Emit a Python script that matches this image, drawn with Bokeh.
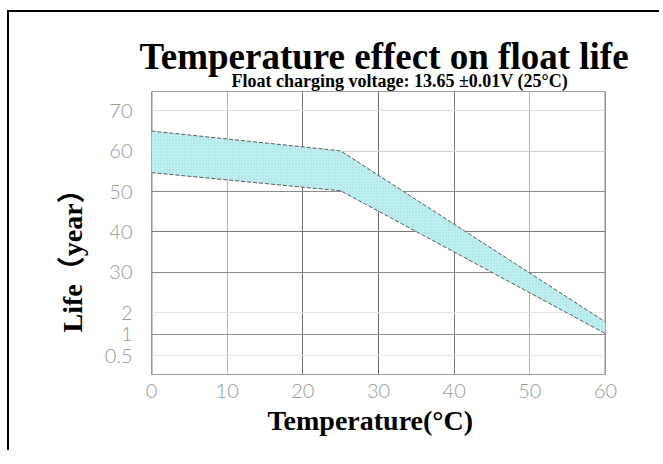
import math
from bokeh.plotting import figure
from bokeh.models import FixedTicker, Range1d, Title
from bokeh.embed import file_html
from bokeh.resources import INLINE

# ---- data ----
temps = [0, 25, 60]
life_upper = [65.0, 60.1, 17.7]
life_lower = [54.7, 50.2, 14.8]

xtick_vals = [0, 10, 20, 30, 40, 50, 60]
xtick_labels = ["0", "10", "20", "30", "40", "50", "60"]
ytick_pos = [70, 60, 50, 40, 30, 20, 14.6, 9.3]
ytick_labels = ["70", "60", "50", "40", "30", "2", "1", "0.5"]

title_text = "Temperature effect on float life"
subtitle_text = "Float charging voltage: 13.65 \u00b10.01V (25\u00b0C)"
xlabel_text = "Temperature(\u00b0C)"
ylabel_text = "Life\uff08year\uff09"

# ---- styles ----
xgrid_colors = ["#8c8c8c", "#b4b4b4", "#6e6e6e", "#6a6a6a", "#7a7a7a", "#b4b4b4", "#8c8c8c"]
xgrid_widths = [2, 1, 1, 1, 1, 1, 2]
ygrid_colors = ["#dcdcdc", "#d2d2d2", "#8a8a8a", "#7a7a7a", "#8a8a8a", "#e4e4e4", "#909090", "#e4e4e4"]

X0, X1 = 0, 60
Y0, Y1 = 4.69, 74.8
W, H = 652, 440
ML, MR, MT, MB = 142, 56, 79, 78

p = figure(width=W, height=H, x_range=Range1d(X0, X1), y_range=Range1d(Y0, Y1),
           output_backend="svg", toolbar_location=None,
           min_border_left=ML, min_border_right=MR, min_border_top=MT, min_border_bottom=MB)
p.title.visible = False
p.styles = {"border-left": "2px solid #000", "border-top": "2px solid #000",
            "margin-left": "7px", "margin-top": "10px"}

p.background_fill_color = "white"
p.border_fill_color = "white"
p.outline_line_color = "#a0a0a0"
p.outline_line_width = 1
p.xgrid.grid_line_color = None
p.ygrid.grid_line_color = None

# grid lines
p.vspan(x=xtick_vals, line_color=xgrid_colors, line_width=xgrid_widths)
p.hspan(y=ytick_pos, line_color=ygrid_colors, line_width=1)

# band
p.varea(x=temps, y1=life_lower, y2=life_upper, fill_color="#bfeff1",
        hatch_pattern="dot", hatch_color="#9fdde1", hatch_scale=3, hatch_weight=1)
p.line(temps, life_upper, line_color="#5a5a5a", line_width=1, line_dash="4 2")
p.line(temps, life_lower, line_color="#5a5a5a", line_width=1, line_dash="4 2")

tick_font = "Lato Light, Lato, sans-serif"
for ax in (p.xaxis[0], p.yaxis[0]):
    ax.axis_line_color = None
    ax.major_tick_line_color = None
    ax.minor_tick_line_color = None
    ax.major_label_text_font = tick_font
    ax.major_label_text_font_size = "20px"
    ax.major_label_text_color = "#9a9a9a"

p.xaxis[0].ticker = FixedTicker(ticks=xtick_vals)
p.xaxis[0].major_label_overrides = {v: l for v, l in zip(xtick_vals, xtick_labels)}
p.xaxis[0].major_label_standoff = 3
p.yaxis[0].ticker = FixedTicker(ticks=ytick_pos)
p.yaxis[0].major_label_overrides = {v: l for v, l in zip(ytick_pos, ytick_labels)}
p.yaxis[0].major_label_standoff = 13

serif = "Liberation Serif, Noto Sans CJK SC, serif"
# above: first added sits nearest the frame
p.add_layout(Title(text=subtitle_text, text_font=serif, text_font_style="bold", text_color="black",
                   text_font_size="18px", align="left", offset=80, standoff=2), "above")
p.add_layout(Title(text=title_text, text_font=serif, text_font_style="bold", text_color="black",
                   text_font_size="37px", align="left", offset=-12, standoff=-18), "above")
p.add_layout(Title(text=xlabel_text, text_font=serif, text_font_style="bold", text_color="black",
                   text_font_size="28px", align="left", offset=116, standoff=4), "below")
p.add_layout(Title(text=ylabel_text, text_font=serif, text_font_style="bold", text_color="black",
                   text_font_size="28px", align="left", offset=42, standoff=28), "left")

open("out.html", "w").write(file_html(p, INLINE))
